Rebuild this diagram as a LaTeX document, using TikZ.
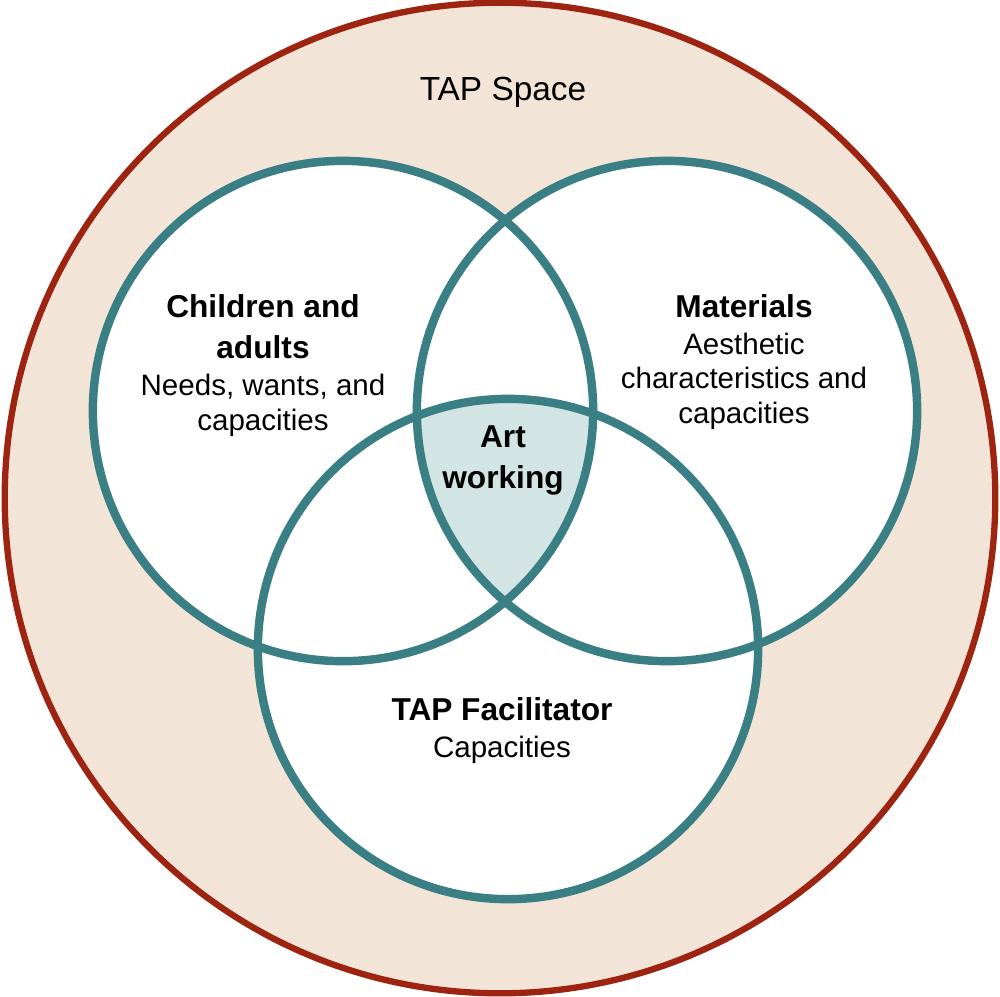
\documentclass[tikz,border=0pt]{standalone}
\usepackage{fontspec}
\setmainfont{Liberation Sans}
\usepackage{tikz}
\usetikzlibrary{positioning}
\definecolor{tapred}{RGB}{158,36,18}
\definecolor{tappeach}{RGB}{243,228,216}
\definecolor{tapteal}{RGB}{58,127,131}
\definecolor{tapshade}{RGB}{210,228,227}
\tikzset{
  spacering/.style={circle, draw=tapred, fill=tappeach,
    minimum size=9.9cm, inner sep=0pt, line width=1.8pt},
  venn/.style={circle, fill=white, minimum size=5cm, inner sep=0pt},
  vennline/.style={draw=tapteal, line width=2.4pt},
  headtext/.style={align=center, inner sep=0pt,
    font=\fontsize{9}{11.7}\selectfont\bfseries},
  bodytext/.style={align=center, inner sep=0pt,
    font=\fontsize{8.4}{9.7}\selectfont}
}

\begin{document}
\begin{tikzpicture}[x=0.01cm, y=-0.01cm]
  \useasboundingbox (0,0) rectangle (1000,996);

  % outer space and the three sets
  \node[spacering] (space) at (500,498) {};
  \node[venn] (kids) at (343,411) {};
  \node[venn] (mats) at (667,411) {};
  \node[venn] (facil) at (508,649) {};

  % shaded overlap of all three
  \begin{scope}
    \clip (kids.center) circle[radius=2.5cm];
    \clip (mats.center) circle[radius=2.5cm];
    \fill[tapshade] (facil.center) circle[radius=2.5cm];
  \end{scope}
  \foreach \c in {kids,mats,facil}
    \draw[vennline] (\c.center) circle[radius=2.5cm];

  % labels
  \node[bodytext, anchor=north, font=\fontsize{9.5}{11}\selectfont] (spacelbl) at (503,76) {TAP Space};
  \node[headtext, anchor=north] (kidshead) at (263,294) {Children and\\adults};
  \node[bodytext, below=0.14cm of kidshead] (kidsbody) {Needs, wants, and\\capacities};
  \node[headtext, anchor=north] (matshead) at (744,294) {Materials};
  \node[bodytext, below=0.14cm of matshead] (matsbody) {Aesthetic\\characteristics and\\capacities};
  \node[headtext, anchor=north] (arthead) at (503,425) {Art\\working};
  \node[headtext, anchor=north] (facilhead) at (502,697) {TAP Facilitator};
  \node[bodytext, below=0.14cm of facilhead] (facilbody) {Capacities};
\end{tikzpicture}
\end{document}
